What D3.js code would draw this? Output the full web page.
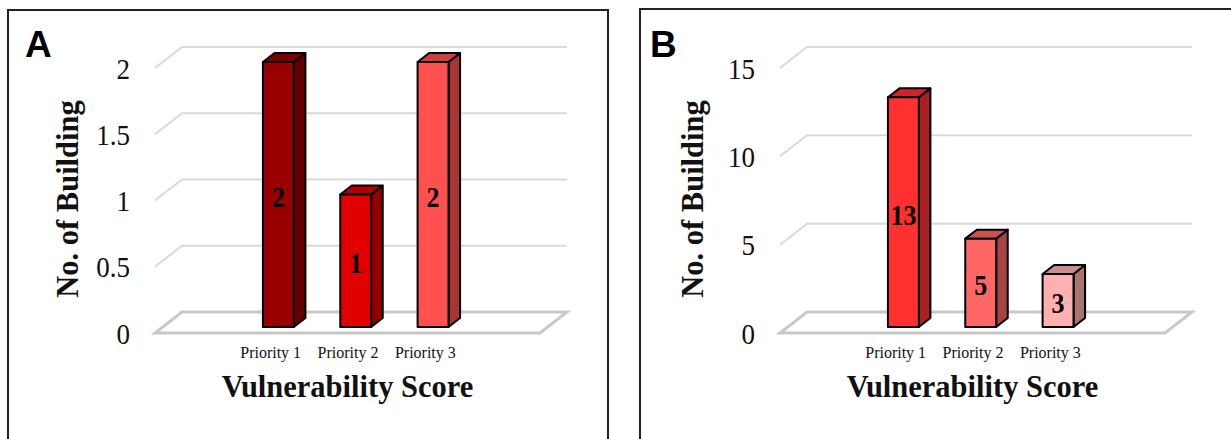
<!DOCTYPE html>
<html>
<head>
<meta charset="utf-8">
<script src="https://cdn.jsdelivr.net/npm/d3@7"></script>
<style>
  body { margin: 0; background: #fff; }
  .serif { font-family: "Liberation Serif", "Times New Roman", serif; }
  .sans { font-family: "Liberation Sans", Arial, sans-serif; }
</style>
</head>
<body>
<svg id="chart" width="1231" height="439"></svg>
<script>
// Building counts per vulnerability priority, two study areas
const categories = ["Priority 1", "Priority 2", "Priority 3"];
const countsA = [2, 1, 2];
const countsB = [13, 5, 3];
const ticksA = [0, 0.5, 1, 1.5, 2];
const ticksB = [0, 5, 10, 15];
const fillsA = ["#990000", "#e00000", "#ff5050"];
const fillsB = ["#ff3030", "#ff6666", "#ffb0b0"];

const svg = d3.select("#chart");

// Panel frames
svg.append("rect").attr("x", 8).attr("y", 10).attr("width", 600).attr("height", 460)
  .attr("fill", "none").attr("stroke", "#222").attr("stroke-width", 2);
svg.append("rect").attr("x", 640).attr("y", 9).attr("width", 620).attr("height", 460)
  .attr("fill", "none").attr("stroke", "#222").attr("stroke-width", 2);

function drawPanel(ox, letter, values, ticks, fills) {
  const g = svg.append("g").attr("transform", `translate(${ox},0)`);

  // Back-wall coordinates; depth runs from back wall (t=0) to front edge (t=1)
  const wallX0 = 182, wallX1 = 567;
  const depth = { x: -27, y: 21 };
  const tFront = 0.714, tBack = 0.286;
  const P = (x, y, t) => [x + t * depth.x, y + t * depth.y];

  const y = d3.scaleLinear().domain([0, d3.max(ticks)]).range([312, 47]);
  const x = d3.scaleBand().domain(categories).range([259, 491])
    .paddingInner(0.6).paddingOuter(0.3);

  const line = d3.line();

  // Gridlines on the back wall and left side wall
  g.selectAll("path.grid").data(ticks.filter(t => t > 0)).join("path")
    .attr("class", "grid")
    .attr("d", v => line([P(wallX0, y(v), 1), P(wallX0, y(v), 0), P(wallX1, y(v), 0)]))
    .attr("fill", "none").attr("stroke", "#d9d9d9").attr("stroke-width", 2);

  // Floor
  const y0 = y(0);
  g.append("path")
    .attr("d", line([P(wallX0, y0, 1), P(wallX1, y0, 1), P(wallX1, y0, 0), P(wallX0, y0, 0)]) + "Z")
    .attr("fill", "none").attr("stroke", "#c8c8c8").attr("stroke-width", 3)
    .attr("stroke-linejoin", "miter");

  // Tick labels
  g.selectAll("text.tick").data(ticks).join("text")
    .attr("class", "tick serif")
    .attr("transform", v => `translate(${P(wallX0, 0, 1)[0] - 25},${P(0, y(v), 1)[1]}) scale(1,1.13)`)
    .attr("dy", "0.35em")
    .attr("text-anchor", "end")
    .attr("font-size", 27)
    .attr("fill", "#111")
    .text(v => String(v));

  // 3D columns
  const bars = g.selectAll("g.bar").data(values.map((v, i) => ({ v, c: categories[i], fill: fills[i] })))
    .join("g").attr("class", "bar");

  const shade = (c, k) => { const col = d3.rgb(c); return d3.rgb(col.r * k, col.g * k, col.b * k).formatHex(); };

  bars.each(function (d) {
    const b = d3.select(this);
    const xa = x(d.c), xb = x(d.c) + x.bandwidth();
    const yt = y(d.v);
    const side = [P(xb, yt, tFront), P(xb, yt, tBack), P(xb, y0, tBack), P(xb, y0, tFront)];
    const top = [P(xa, yt, tFront), P(xb, yt, tFront), P(xb, yt, tBack), P(xa, yt, tBack)];
    const front = [P(xa, yt, tFront), P(xb, yt, tFront), P(xb, y0, tFront), P(xa, y0, tFront)];
    [[side, shade(d.fill, 0.66)], [top, shade(d.fill, 0.8)], [front, d.fill]].forEach(([pts, f]) => {
      b.append("path").attr("d", line(pts) + "Z").attr("fill", f)
        .attr("stroke", "#000").attr("stroke-width", 2).attr("stroke-linejoin", "round");
    });
    const cx = (front[0][0] + front[1][0]) / 2;
    const cy = (front[0][1] + front[2][1]) / 2 + 2;
    b.append("text")
      .attr("class", "serif")
      .attr("transform", `translate(${cx},${cy}) scale(1,1.15)`)
      .attr("dy", "0.35em")
      .attr("text-anchor", "middle")
      .attr("font-size", 26).attr("font-weight", "bold").attr("fill", "#000")
      .text(d.v);
  });

  // Category labels along the front edge of the floor
  g.selectAll("text.cat").data(categories).join("text")
    .attr("class", "cat serif")
    .attr("transform", c => `translate(${P(x(c) + x.bandwidth() / 2, 0, 1)[0]},358) scale(1,1.1)`)
    .attr("text-anchor", "middle")
    .attr("font-size", 16)
    .attr("fill", "#111")
    .text(c => c);

  // Axis titles
  const floorFrontMid = (P(wallX0, 0, 1)[0] + P(wallX1, 0, 1)[0]) / 2;
  g.append("text")
    .attr("class", "serif")
    .attr("x", floorFrontMid).attr("y", 397)
    .attr("text-anchor", "middle")
    .attr("font-size", 30.5).attr("font-weight", "bold").attr("fill", "#111")
    .text("Vulnerability Score");

  g.append("text")
    .attr("class", "serif")
    .attr("transform", "translate(78,199) rotate(-90)")
    .attr("text-anchor", "middle")
    .attr("font-size", 30.5).attr("font-weight", "bold").attr("fill", "#111")
    .text("No. of Building");

  // Panel letter
  g.append("text")
    .attr("class", "sans")
    .attr("x", 25).attr("y", 57)
    .attr("font-size", 37).attr("font-weight", "bold").attr("fill", "#000")
    .text(letter);
}

drawPanel(0, "A", countsA, ticksA, fillsA);
drawPanel(625, "B", countsB, ticksB, fillsB);
</script>
</body>
</html>
